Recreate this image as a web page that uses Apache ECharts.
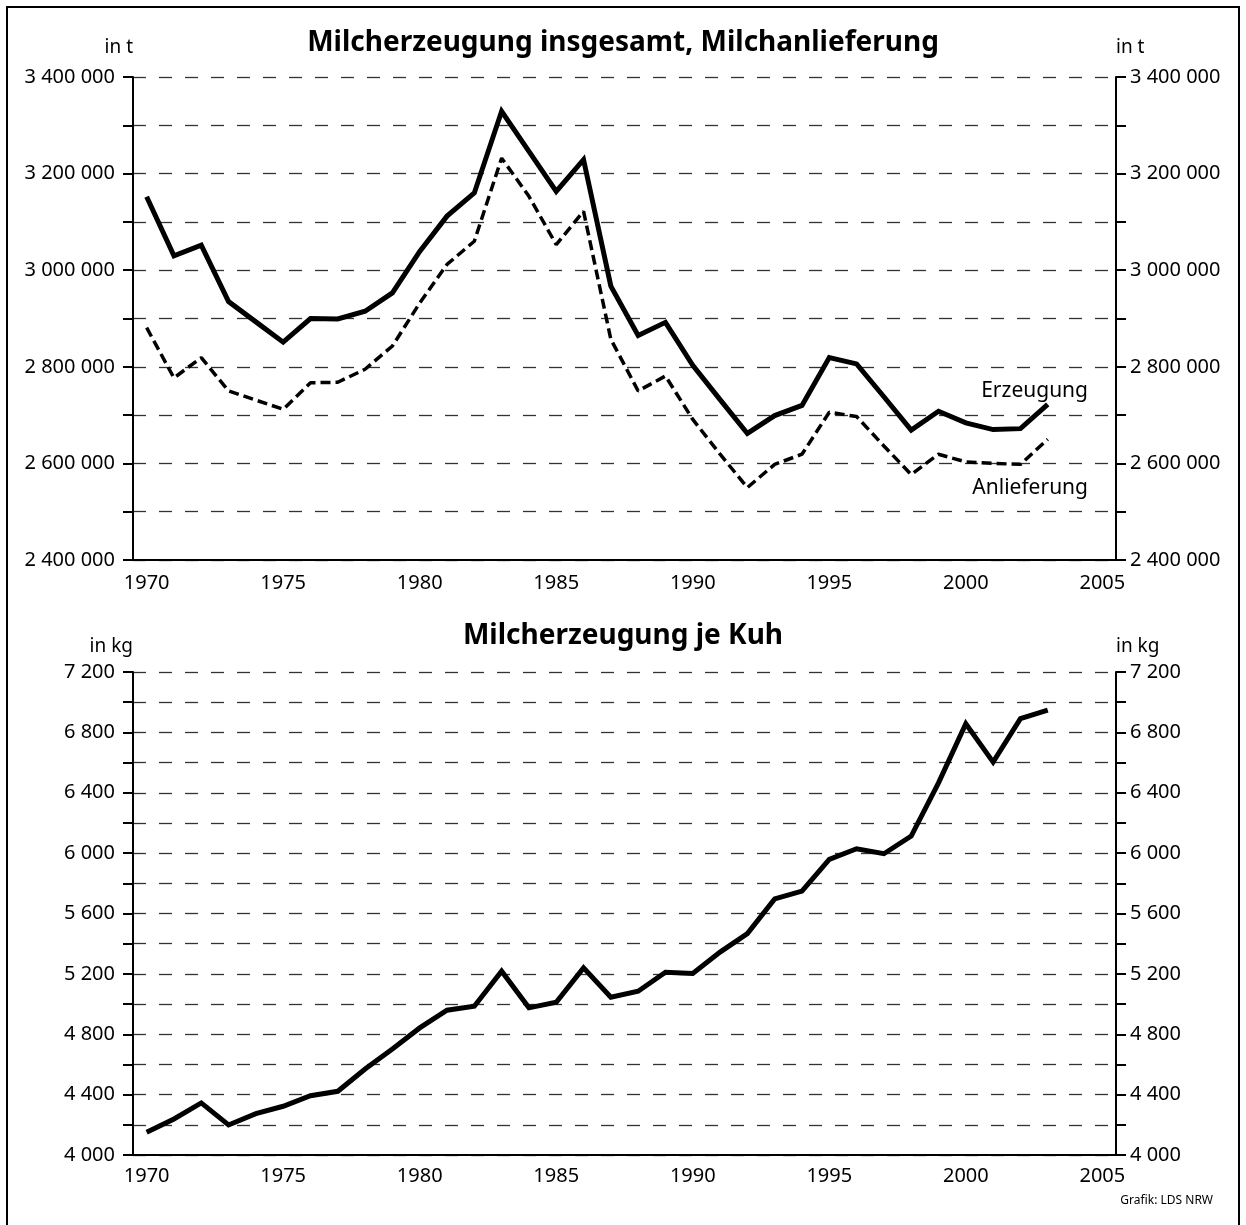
<!DOCTYPE html>
<html>
<head>
<meta charset="utf-8">
<script src="https://cdn.jsdelivr.net/npm/echarts@6/dist/echarts.min.js"></script>
<style>
html,body{margin:0;padding:0;background:#fff;}
#chart{width:1246px;height:1225px;}
</style>
</head>
<body>
<div id="chart"></div>
<script>
var years = [];
for (var y = 1970; y <= 2005; y++) years.push(String(y));

var erzeugung = [3152000, 3030000, 3052000, 2935000, 2893000, 2851000, 2900000, 2899000, 2915000, 2953000,
  3039000, 3112000, 3160000, 3329000, 3246000, 3163000, 3229000, 2967000, 2865000, 2892000,
  2803000, 2732000, 2662000, 2699000, 2720000, 2819000, 2806000, 2738000, 2669000, 2708000,
  2684000, 2670000, 2672000, 2722000];

var anlieferung = [2881000, 2777000, 2819000, 2750000, 2731000, 2712000, 2767000, 2768000, 2795000, 2843000,
  2932000, 3012000, 3060000, 3232000, 3153000, 3053000, 3122000, 2857000, 2750000, 2781000,
  2691000, 2619000, 2550000, 2598000, 2619000, 2706000, 2697000, 2636000, 2577000, 2619000,
  2603000, 2600000, 2598000, 2650000];

var jeKuh = [4150, 4239, 4345, 4199, 4274, 4323, 4393, 4422, 4570, 4703,
  4842, 4959, 4986, 5218, 4975, 5012, 5240, 5045, 5085, 5211,
  5202, 5344, 5467, 5697, 5748, 5958, 6029, 5996, 6113, 6466,
  6857, 6603, 6891, 6948];

var titles = ['Milcherzeugung insgesamt, Milchanlieferung', 'Milcherzeugung je Kuh'];
var seriesNames = ['Erzeugung', 'Anlieferung', 'je Kuh'];

var FONT = '"Noto Sans", sans-serif';
function fmt(v) { return String(v).replace(/\B(?=(\d{3})+(?!\d))/g, ' '); }

function xAxis(gi, margin) {
  return {
    type: 'category', gridIndex: gi, data: years, boundaryGap: true,
    axisLine: { lineStyle: { color: '#000', width: 2 } },
    axisTick: { interval: 0, length: 8, lineStyle: { color: '#000', width: 2 } },
    axisLabel: { interval: 4, color: '#000', fontFamily: FONT, fontSize: 20, margin: margin },
    splitLine: { show: false }
  };
}
function yAxis(gi, pos, min, max, step, labelStep, name, gap) {
  return {
    type: 'value', gridIndex: gi, position: pos, min: min, max: max, interval: step,
    name: name, nameLocation: 'end', nameGap: gap,
    nameTextStyle: { color: '#000', fontFamily: FONT, fontSize: 19, align: pos === 'left' ? 'right' : 'left', verticalAlign: 'middle', padding: 0 },
    axisLine: { show: true, lineStyle: { color: '#000', width: 2 } },
    axisTick: { show: true, length: 10, inside: false, lineStyle: { color: '#000', width: 2 } },
    axisLabel: {
      color: '#000', fontFamily: FONT, fontSize: 20, margin: pos === 'left' ? 18 : 14,
      formatter: function (v) { return ((v - min) % labelStep === 0) ? fmt(v) : ''; }
    },
    splitLine: pos === 'left' ? { show: true, lineStyle: { color: '#333', width: 1.3, type: [13, 13] } } : { show: false }
  };
}

var chart = echarts.init(document.getElementById('chart'), null, { renderer: 'canvas' });
chart.setOption({
  backgroundColor: '#fff',
  animation: false,
  title: [
    { text: titles[0], left: 'center', top: 24, textStyle: { fontFamily: FONT, fontWeight: 'bold', fontSize: 28, color: '#000' } },
    { text: titles[1], left: 'center', top: 617, textStyle: { fontFamily: FONT, fontWeight: 'bold', fontSize: 28, color: '#000' } }
  ],
  grid: [
    { left: 133, right: 130, top: 77, height: 483 },
    { left: 133, right: 130, top: 672, height: 483 }
  ],
  xAxis: [xAxis(0, 13), xAxis(1, 11)],
  yAxis: [
    yAxis(0, 'left', 2400000, 3400000, 100000, 200000, 'in t', 29),
    yAxis(0, 'right', 2400000, 3400000, 100000, 200000, 'in t', 29),
    yAxis(1, 'left', 4000, 7200, 200, 400, 'in kg', 25),
    yAxis(1, 'right', 4000, 7200, 200, 400, 'in kg', 25)
  ],
  series: [
    { name: seriesNames[0], type: 'line', xAxisIndex: 0, yAxisIndex: 0, data: erzeugung, showSymbol: false, symbol: 'none',
      lineStyle: { color: '#000', width: 5, join: 'miter' } },
    { name: seriesNames[1], type: 'line', xAxisIndex: 0, yAxisIndex: 0, data: anlieferung, showSymbol: false, symbol: 'none',
      lineStyle: { color: '#000', width: 3.5, type: [10, 5] } },
    { name: seriesNames[2], type: 'line', xAxisIndex: 1, yAxisIndex: 2, data: jeKuh, showSymbol: false, symbol: 'none',
      lineStyle: { color: '#000', width: 5, join: 'miter' } }
  ],
  graphic: [
    { type: 'rect', silent: true, shape: { x: 7, y: 7, width: 1232, height: 1225 }, style: { fill: 'none', stroke: '#000', lineWidth: 2 } },
    { type: 'text', x: 1088, y: 391, style: { text: seriesNames[0], font: '21px ' + FONT, fill: '#000', align: 'right', verticalAlign: 'middle' } },
    { type: 'text', x: 1088, y: 488, style: { text: seriesNames[1], font: '21px ' + FONT, fill: '#000', align: 'right', verticalAlign: 'middle' } },
    { type: 'text', x: 1213, y: 1201, style: { text: 'Grafik: LDS NRW', font: '12px ' + FONT, fill: '#000', align: 'right', verticalAlign: 'middle' } }
  ]
});
</script>
</body>
</html>
